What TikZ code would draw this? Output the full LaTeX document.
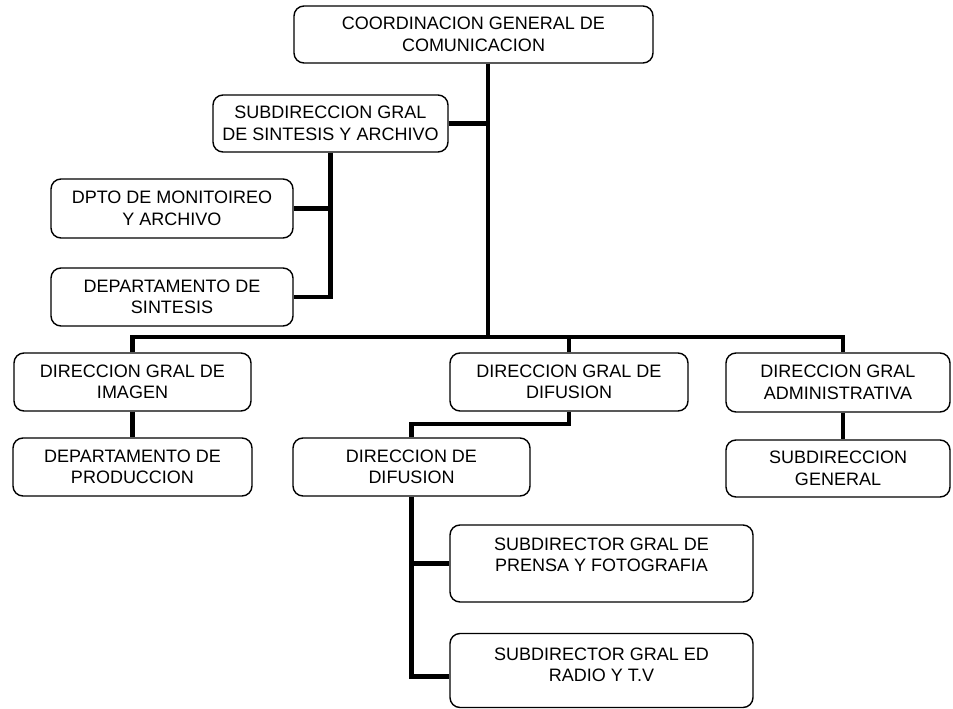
\documentclass[tikz,border=0pt]{standalone}
\usepackage{fontspec}
\setmainfont{Liberation Sans}
\begin{document}
\begin{tikzpicture}[x=1pt,y=-1pt,
  box/.style={draw=black, line width=1.4pt, rounded corners=10pt, align=center,
    inner sep=0pt, font=\fontsize{18}{21.5}\selectfont},
  conn/.style={draw=black, line width=4.5pt, line cap=butt, line join=miter}]
\fill[white] (0,0) rectangle (953,709);
\useasboundingbox (0,0) rectangle (953,709);

\node[box, minimum width=359pt, minimum height=57pt] (top) at (473.5,34.5) {COORDINACION GENERAL DE\\COMUNICACION};
\node[box, minimum width=235pt, minimum height=57pt] (sub) at (330.5,123.5) {SUBDIRECCION GRAL\\DE SINTESIS Y ARCHIVO};
\node[box, minimum width=242pt, minimum height=59pt] (dpto) at (172,208.5) {DPTO DE MONITOIREO\\Y ARCHIVO};
\node[box, minimum width=242pt, minimum height=58pt] (dsint) at (172,297) {DEPARTAMENTO DE\\SINTESIS};
\node[box, minimum width=237pt, minimum height=58pt] (dimg) at (132.5,382) {DIRECCION GRAL DE\\IMAGEN};
\node[box, minimum width=239pt, minimum height=58pt] (dprod) at (132.5,467) {DEPARTAMENTO DE\\PRODUCCION};
\node[box, minimum width=238pt, minimum height=58pt] (dgdif) at (569,382) {DIRECCION GRAL DE\\DIFUSION};
\node[box, minimum width=224pt, minimum height=59pt] (dgadm) at (838,382.5) {DIRECCION GRAL\\ADMINISTRATIVA};
\node[box, minimum width=224pt, minimum height=57pt] (subgen) at (838,468.5) {SUBDIRECCION\\GENERAL};
\node[box, minimum width=237pt, minimum height=58pt] (ddif) at (411.5,467) {DIRECCION DE\\DIFUSION};
\node[box, minimum width=303pt, minimum height=77pt] (prensa) at (601.5,563.5) {SUBDIRECTOR GRAL DE\\PRENSA Y FOTOGRAFIA\\[-4pt]};
\node[box, minimum width=303pt, minimum height=74pt] (radio) at (601.5,670.5) {SUBDIRECTOR GRAL ED\\RADIO Y T.V\\[-10pt]};

\coordinate (trunk) at (488,337);
\coordinate (admx) at (843,337);
\coordinate (elbow) at (0,424);
\coordinate (rj) at ([yshift=-6pt]radio.west);

% main trunk
\draw[conn] (top.south -| trunk) -- (trunk);
\draw[conn] (sub.east) -- (sub.east -| trunk);
% subdireccion children
\draw[conn] (sub.south) -- (sub.south |- dsint.east) -- (dsint.east);
\draw[conn] (dpto.east) -- (dpto.east -| sub.south);
% horizontal bar
\draw[conn] (dimg.north) -- (dimg.north |- trunk) -- (admx) -- (admx |- dgadm.north);
\draw[conn] (dgdif.north) -- (dgdif.north |- trunk);
% children
\draw[conn] (dimg.south) -- (dprod.north);
\draw[conn] (admx |- dgadm.south) -- (admx |- subgen.north);
\draw[conn] (dgdif.south) -- (dgdif.south |- elbow) -- (ddif.north |- elbow) -- (ddif.north);
\draw[conn] (ddif.south) -- (ddif.south |- rj) -- (rj);
\draw[conn] (prensa.west) -- (prensa.west -| ddif.south);
\end{tikzpicture}
\end{document}
